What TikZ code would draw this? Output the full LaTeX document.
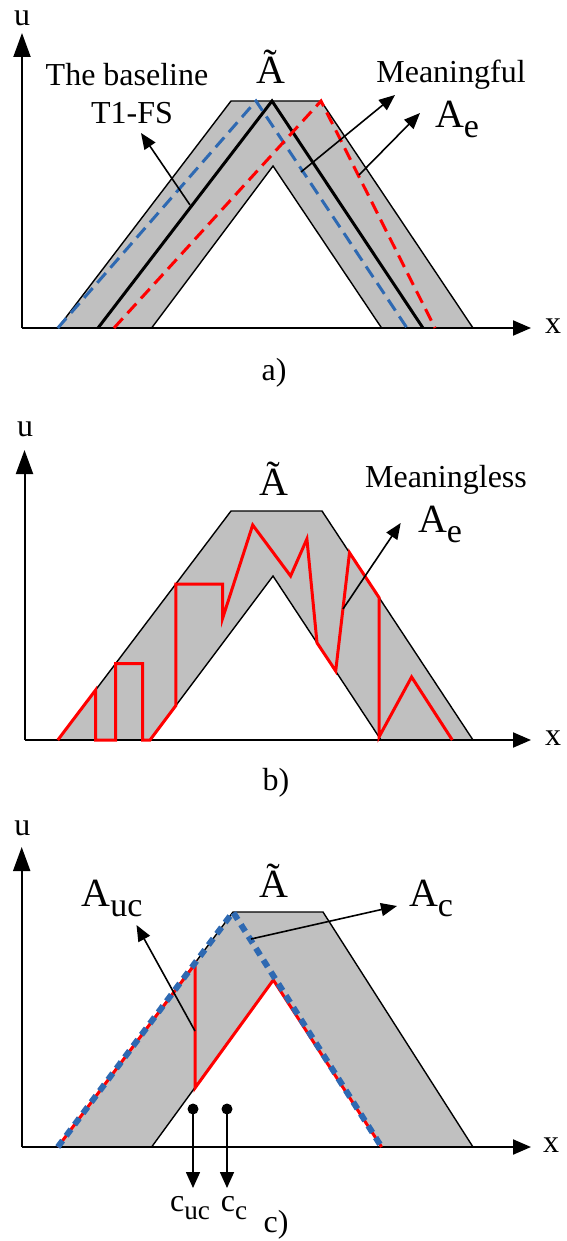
\documentclass[tikz,border=0pt]{standalone}
\usepackage{fontspec}
\setmainfont{Liberation Serif}
\usetikzlibrary{arrows.meta}
\definecolor{bandgray}{RGB}{192,192,192}
\definecolor{fsblue}{RGB}{46,105,178}
\definecolor{fsred}{RGB}{255,0,0}
\newcommand\lsub[1]{\raisebox{-0.25em}{\scalebox{0.85}{#1}}}
\tikzset{
  lbl/.style={font=\fontsize{32}{34}\selectfont, inner sep=0pt},
  big/.style={font=\fontsize{40}{42}\selectfont, inner sep=0pt},
  yaxis/.style={line width=2pt, -{Triangle[length=24pt,width=17pt]}},
  xaxis/.style={line width=2pt, -{Triangle[length=18pt,width=15pt]}},
  band/.style={fill=bandgray, draw=black, line width=1.4pt, even odd rule},
  ptr/.style={line width=1.6pt, -{Triangle[length=16pt,width=13pt]}},
  dptr/.style={line width=1.6pt, -{Triangle[length=16pt,width=14pt]}},
  base/.style={line width=3pt},
  bdash/.style={fsblue, line width=3pt, dash pattern=on 13pt off 7pt},
  rdash/.style={fsred, line width=3pt, dash pattern=on 13pt off 7pt},
  rline/.style={fsred, line width=3pt},
  bdot/.style={fsblue, line width=6pt, dash pattern=on 8pt off 6pt},
  dot/.style={circle, fill=black, inner sep=0pt, minimum size=11pt}
}
\begin{document}
\begin{tikzpicture}[x=1pt,y=-1pt]
\useasboundingbox (0,0) rectangle (567,1241);
% ---------------- panel a ----------------
\path[band] (57.8,328) -- (231,101) -- (321,101) -- (473,328) -- cycle
            (151.6,328) -- (273,166) -- (381.6,328) -- cycle;
\coordinate (Oa) at (22,328);
\coordinate (ya) at (22,33);
\coordinate (xa) at (531,328);
\draw[yaxis] (Oa) -- (ya);
\draw[xaxis] (Oa) -- (xa);
\draw[base] (98,328) -- (272,101) -- (423,328);
\draw[bdash] (57.8,328) -- (256,101) -- (407,328);
\draw[rdash] (114,328) -- (321,101) -- (435,328);
\node[lbl] (ua) at (22,18) {u};
\node[lbl] (xla) at (553,326) {x};
\node[lbl] (tbl) at (127,75) {The baseline};
\node[lbl] (t1fs) at (132,113) {T1-FS};
\node[big] (Ata) at (271,67) {Ã};
\node[lbl] (mf) at (451,75) {Meaningful};
\node[big] (Aea) at (457,119) {A\lsub{e}};
\node[lbl] (capa) at (274,373) {a)};
\coordinate (pa1) at (190,205); \coordinate (pa1t) at (141,133);
\coordinate (pa2) at (301,172); \coordinate (pa2t) at (395,95);
\coordinate (pa3) at (359,175); \coordinate (pa3t) at (420,113);
\draw[ptr] (pa1) -- (pa1t);
\draw[ptr] (pa2) -- (pa2t);
\draw[ptr] (pa3) -- (pa3t);
% ---------------- panel b ----------------
\path[band] (57.8,740) -- (231,511) -- (322,511) -- (473,740) -- cycle
            (150,740) -- (273,576) -- (381,740) -- cycle;
\coordinate (Ob) at (24.5,740);
\coordinate (yb) at (24.5,450);
\coordinate (xb) at (531,740);
\draw[yaxis] (Ob) -- (yb);
\draw[xaxis] (Ob) -- (xb);
\draw[rline] (57.8,740) -- (95.7,689.9) -- (95.7,740) -- (115.5,740) -- (115.5,663.7)
  -- (142.6,663.7) -- (142.6,740) -- (150,740) -- (175.8,705.6) -- (175.8,584)
  -- (222.7,584) -- (222.7,618) -- (252.7,525) -- (290.6,576) -- (306.9,539)
  -- (317,642.8) -- (335.7,671) -- (349.5,552.7) -- (379,597.5) -- (379,737)
  -- (411.6,677) -- (452.3,740);
\node[lbl] (ub) at (25,429) {u};
\node[lbl] (xlb) at (553,738) {x};
\node[big] (Atb) at (273.6,479) {Ã};
\node[lbl] (ml) at (446,480) {Meaningless};
\node[big] (Aeb) at (440,524) {A\lsub{e}};
\node[lbl] (capb) at (276,783) {b)};
\coordinate (pb1) at (343,609); \coordinate (pb1t) at (400.7,523);
\draw[ptr] (pb1) -- (pb1t);
% ---------------- panel c ----------------
\path[band] (57.8,1147) -- (233,912) -- (323,912) -- (473,1147) -- cycle
            (151.6,1147) -- (273.3,980) -- (381.6,1147) -- cycle;
\coordinate (Oc) at (21.7,1147);
\coordinate (yc) at (21.7,847);
\coordinate (xc) at (531,1147);
\draw[yaxis] (Oc) -- (yc);
\draw[xaxis] (Oc) -- (xc);
\draw[rline] (57.8,1147) -- (195,964) -- (195,1088) -- (273.3,980) -- (381.6,1147);
\draw[bdot] (57.8,1147) -- (233,912) -- (381.6,1147);
\node[lbl] (uc) at (22.4,828) {u};
\node[lbl] (xlc) at (551,1145) {x};
\node[big] (Atc) at (274,881) {Ã};
\node[big] (Auc) at (112,898) {A\lsub{uc}};
\node[big] (Ac) at (431,898) {A\lsub{c}};
\coordinate (pc1) at (195,1031); \coordinate (pc1t) at (136.5,925);
\coordinate (pc2) at (251,939); \coordinate (pc2t) at (397,906);
\draw[ptr] (pc1) -- (pc1t);
\draw[ptr] (pc2) -- (pc2t);
\node[dot] (d1) at (193,1109) {};
\node[dot] (d2) at (227,1109) {};
\coordinate (d1t) at (193,1188);
\coordinate (d2t) at (227,1188);
\draw[dptr] (d1.center) -- (d1t);
\draw[dptr] (d2.center) -- (d2t);
\node[lbl] (cuc) at (190,1208) {c\lsub{uc}};
\node[lbl] (cc) at (234,1208) {c\lsub{c}};
\node[lbl] (capc) at (276,1225) {c)};
\end{tikzpicture}
\end{document}
